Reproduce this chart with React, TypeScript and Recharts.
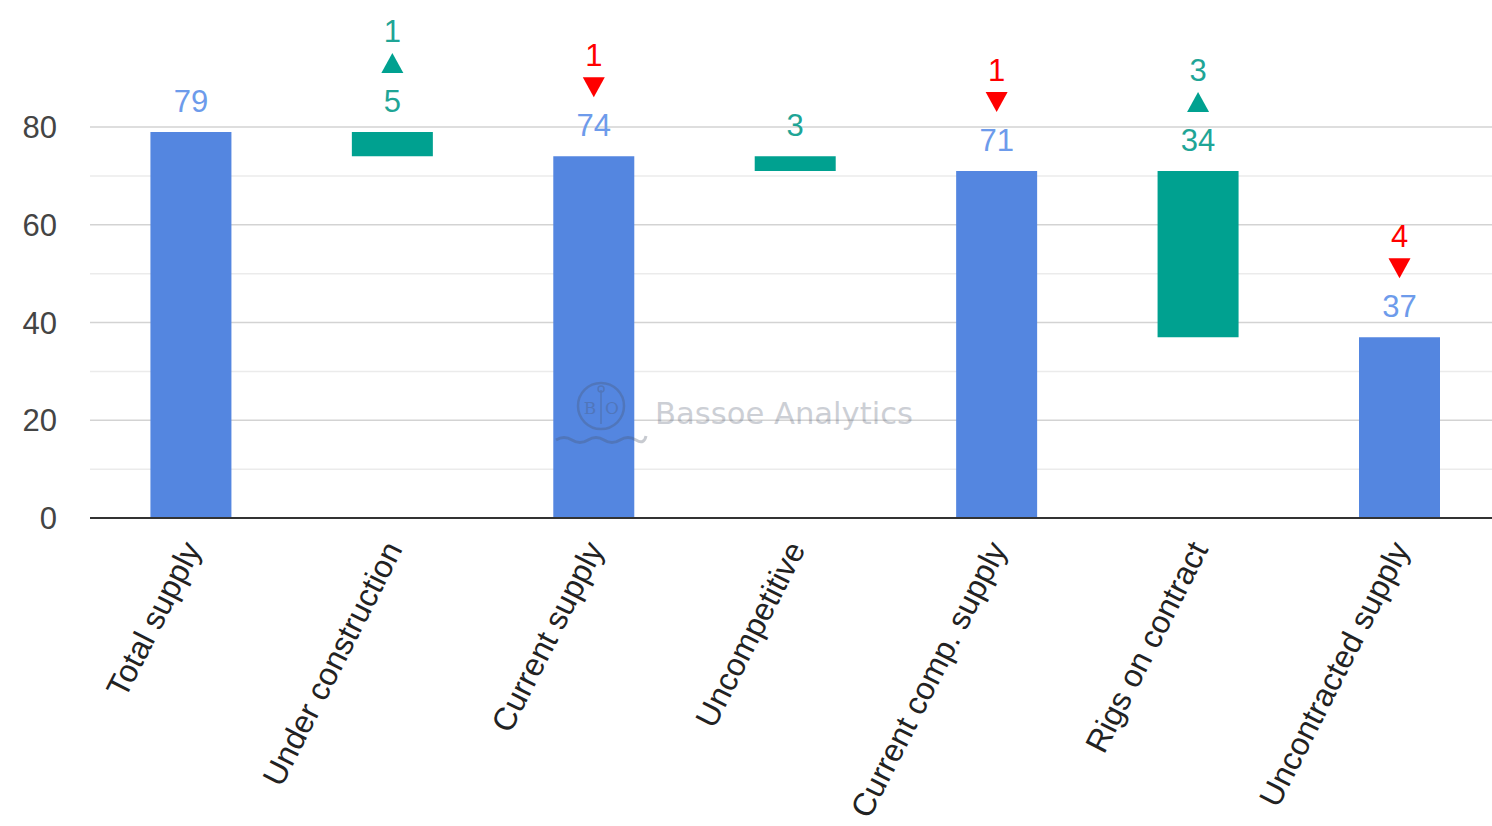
import React from 'react';
import { BarChart, Bar, XAxis, YAxis, CartesianGrid, LabelList, Cell } from 'recharts';

const categories = [
  'Total supply',
  'Under construction',
  'Current supply',
  'Uncompetitive',
  'Current comp. supply',
  'Rigs on contract',
  'Uncontracted supply',
];
const barLows = [0, 74, 0, 71, 0, 37, 0];
const barHighs = [79, 79, 74, 74, 71, 71, 37];
const valueLabels = ['79', '5', '74', '3', '71', '34', '37'];
const barKinds = ['total', 'delta', 'total', 'delta', 'total', 'delta', 'total'];
const changeValues = ['', '1', '1', '', '1', '3', '4'];
const changeDirections = ['', 'up', 'down', '', 'down', 'up', 'down'];
const yTicks = [0, 20, 40, 60, 80];
const minorTicks = [10, 30, 50, 70];

const BLUE = '#5486e0';
const TEAL = '#00a190';
const BLUE_LABEL = '#6d9beb';
const TEAL_LABEL = '#1fa596';
const RED = '#ff0000';
const FONT = "Arial, 'Liberation Sans', sans-serif";

const data = categories.map((name, i) => ({
  name,
  base: barLows[i],
  span: barHighs[i] - barLows[i],
}));

const BarAnnotation = (props: any) => {
  const { x, y, width, index } = props;
  const cx = x + width / 2;
  const kind = barKinds[index];
  const color = kind === 'total' ? BLUE_LABEL : TEAL_LABEL;
  const labelCenter = y - 31;
  const dir = changeDirections[index];
  const change = changeValues[index];
  const triCy = labelCenter - 38;
  const numCenter = labelCenter - 70;
  const triColor = dir === 'up' ? TEAL : RED;
  const numColor = dir === 'up' ? TEAL_LABEL : RED;
  const hw = 11;
  const hh = 10;
  const triPath =
    dir === 'up'
      ? `M${cx - hw},${triCy + hh} L${cx + hw},${triCy + hh} L${cx},${triCy - hh} Z`
      : `M${cx - hw},${triCy - hh} L${cx + hw},${triCy - hh} L${cx},${triCy + hh} Z`;
  return (
    <g>
      <text x={cx} y={labelCenter + 11} textAnchor="middle" fontSize={31} fontFamily={FONT} fill={color}>
        {valueLabels[index]}
      </text>
      {dir ? <path d={triPath} fill={triColor} /> : null}
      {change ? (
        <text x={cx} y={numCenter + 11} textAnchor="middle" fontSize={31} fontFamily={FONT} fill={numColor}>
          {change}
        </text>
      ) : null}
    </g>
  );
};

const XTick = (props: any) => {
  const { x, y, payload } = props;
  return (
    <g transform={`translate(${x + 11},${y + 31})`}>
      <text transform="rotate(-63)" textAnchor="end" fontSize={32} fontFamily={FONT} fill="#222222">
        {payload.value}
      </text>
    </g>
  );
};

const Watermark = () => (
  <svg width={1492} height={826} style={{ position: 'absolute', left: 0, top: 0, pointerEvents: 'none' }}>
    <g opacity={0.3}>
      <circle cx={601} cy={406} r={23} fill="none" stroke="#4a5468" strokeWidth={2.5} />
      <text x={590} y={414} textAnchor="middle" fontSize={17} fontFamily="'DejaVu Serif', serif" fill="#4a5468">B</text>
      <text x={612} y={414} textAnchor="middle" fontSize={17} fontFamily="'DejaVu Serif', serif" fill="#4a5468">O</text>
      <line x1={601} y1={390} x2={601} y2={424} stroke="#4a5468" strokeWidth={1.5} />
      <circle cx={601} cy={389} r={3} fill="none" stroke="#4a5468" strokeWidth={1.5} />
      <path d="M556,440 q8,-5 16,0 t16,0 t16,0 t16,0 t16,0 t10,-4" fill="none" stroke="#4a5468" strokeWidth={3} />
      <text x={655} y={424} fontSize={30} fontFamily="'DejaVu Sans', sans-serif" fill="#5a6478" textLength={258} lengthAdjust="spacingAndGlyphs">
        Bassoe Analytics
      </text>
    </g>
  </svg>
);

export default function App() {
  return (
    <div style={{ position: 'absolute', left: 0, top: 0, width: 1492, height: 826, overflow: 'hidden', background: '#fff' }}>
      <BarChart
        width={1510}
        height={826}
        data={data}
        margin={{ top: 127, right: 10, bottom: 8, left: 30 }}
        barCategoryGap="30%"
      >
        <CartesianGrid vertical={false} horizontalValues={minorTicks} stroke="#ebebeb" strokeWidth={1.5} />
        <CartesianGrid vertical={false} horizontalValues={yTicks} stroke="#d3d3d3" strokeWidth={1.5} />
        <YAxis
          domain={[0, 80]}
          ticks={yTicks}
          width={60}
          axisLine={false}
          tickLine={false}
          tickSize={0}
          tickMargin={33}
          tick={{ fontSize: 31, fill: '#444444', fontFamily: FONT }}
        />
        <XAxis
          dataKey="name"
          interval={0}
          height={300}
          tickLine={false}
          tickSize={0}
          tickMargin={0}
          axisLine={{ stroke: '#333333', strokeWidth: 2 }}
          tick={<XTick />}
        />
        <Bar dataKey="base" stackId="a" fill="transparent" isAnimationActive={false} />
        <Bar dataKey="span" stackId="a" isAnimationActive={false}>
          {data.map((d, i) => (
            <Cell key={d.name} fill={barKinds[i] === 'total' ? BLUE : TEAL} />
          ))}
          <LabelList dataKey="span" content={<BarAnnotation />} />
        </Bar>
      </BarChart>
      <Watermark />
    </div>
  );
}
